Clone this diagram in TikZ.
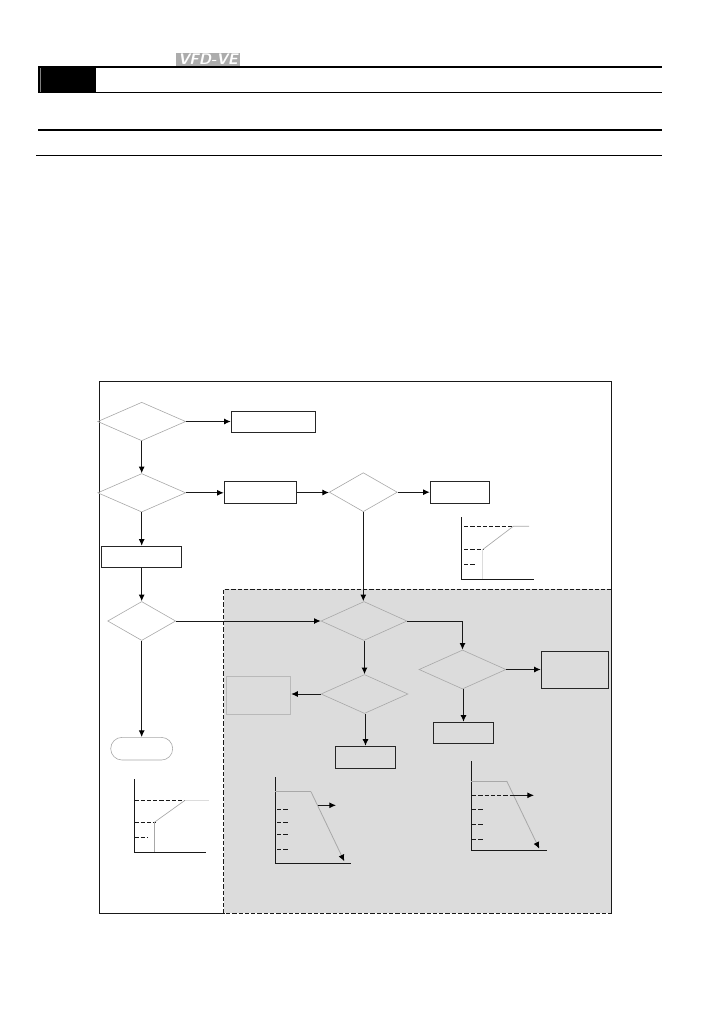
\documentclass[tikz,border=0pt]{standalone}
\usepackage{xcolor}
\usetikzlibrary{arrows.meta,shapes.geometric,shapes.misc}
\definecolor{zonegray}{HTML}{DCDCDC}
\definecolor{edgegray}{HTML}{A8A8A8}
\tikzset{
  decide/.style 2 args={diamond,draw=edgegray,line width=0.45pt,inner sep=0pt,minimum width=#1*0.75pt,minimum height=#2*0.75pt},
  proc/.style 2 args={rectangle,draw=black!85,line width=0.75pt,inner sep=0pt,minimum width=#1*0.75pt,minimum height=#2*0.75pt},
  tip/.style={-{Latex[black,length=5pt,width=4.5pt]}},
  flow/.style={tip,black!90,line width=0.75pt},
  axis/.style={black!90,line width=0.75pt},
  level/.style={black!90,dashed,dash pattern=on 3.2pt off 1.5pt,line width=0.6pt},
  curve/.style={edgegray,line width=0.75pt}
}
\begin{document}
\begin{tikzpicture}[x=0.75pt,y=-0.75pt]
\useasboundingbox (0,0) rectangle (726,1032);
\fill[black] (38,67) rectangle (96,92.5);
\draw[gray,line width=0.5pt] (40.5,68) -- (40.5,92);
\draw[black,line width=1.3pt] (38,67) -- (662,67);
\draw[black,line width=0.75pt] (96,92.5) -- (662,92.5);
\draw[black,line width=1.3pt] (38,129.7) -- (662,129.7);
\draw[black,line width=0.75pt] (36,155.3) -- (662,155.3);
\node[fill=gray!65,text=white,inner sep=0pt,minimum width=48pt,minimum height=10pt,font=\fontsize{11.5}{11.5}\sffamily\bfseries\itshape] (logo) at (208,59.4) {VFD-VE};
\fill[zonegray] (223.7,589.3) rectangle (611.7,913.3);
\draw[level,line width=0.75pt] (611.7,589.3) -- (223.7,589.3) -- (223.7,913.3) -- (611.7,913.3);
\draw[axis] (223.7,913.3) -- (99.3,913.3) -- (99.3,381) -- (611.7,381) -- (611.7,913.3);
\node[decide={88}{38.5}] (d1) at (141.7,421.5) {};
\node[decide={88}{38.5}] (d2) at (141.7,492.8) {};
\node[decide={68}{39}] (d3) at (363.3,492.2) {};
\node[decide={68}{39}] (d4) at (141.7,621) {};
\node[decide={86}{39}] (d5) at (364,621) {};
\node[decide={87}{39}] (d6) at (364.5,694) {};
\node[decide={87}{39}] (d7) at (462.5,669.5) {};
\node[proc={84.5}{21}] (b1) at (273.5,421.5) {};
\node[proc={72.5}{22}] (b2) at (260.5,492.5) {};
\node[proc={79.5}{21}] (b3) at (141.7,556.8) {};
\node[proc={59.5}{22}] (b4) at (460,492.3) {};
\node[proc={67.5}{37.5}] (b5) at (575,669.8) {};
\node[proc={60.5}{21.5}] (b6) at (463.5,733) {};
\node[proc={60.5}{22.5}] (b7) at (365.5,757.5) {};
\node[proc={64}{37.5},draw=edgegray!80] (b8) at (258.7,695.3) {};
\node[rounded rectangle,draw=edgegray,line width=0.45pt,inner sep=0pt,minimum width=46.5pt,minimum height=17pt] (end) at (141.7,748.7) {};
\draw[flow] (d1.east) -- (b1.west);
\draw[flow] (d1.south) -- (d2.north);
\draw[flow] (d2.east) -- (d2.east -| b2.west);
\draw[flow] (b2.east) -- (b2.east -| d3.west);
\draw[flow] (d3.east) -- (d3.east -| b4.west);
\draw[flow] (d2.south) -- (b3.north);
\draw[flow] (b3.south) -- (d4.north);
\draw[flow] (d4.east) -- (d5.west);
\draw[flow] (d3.south) -- (d3.south |- d5.north);
\draw[flow] (d4.south) -- (end.north);
\draw[flow] (d6.north |- d5.south) -- (d6.north);
\draw[flow] (d5.east) -| (d7.north);
\draw[flow] (d7.east) -- (d7.east -| b5.west);
\draw[flow] (b6.north |- d7.south) -- (b6.north);
\draw[flow] (d6.west) -- (d6.west -| b8.east);
\draw[flow] (b7.north |- d6.south) -- (b7.north);
\draw[axis] (461.7,517.3) -- (461.7,579.3) -- (533.7,579.3);
\draw[level] (464,526.3) -- (513.3,526.3);
\draw[level] (464,549.3) -- (483.3,549.3);
\draw[level] (464,564.7) -- (475,564.7);
\draw[zonegray,line width=0.75pt] (482.3,549.3) -- (482.3,579);
\draw[curve,line width=0.5pt] (483,549.3) -- (513.3,526.3) -- (529,526.3);
\draw[axis] (134.3,779) -- (134.3,852.3) -- (205.7,852.3);
\draw[level] (134.3,800.3) -- (185,800.3);
\draw[level] (134.3,822.3) -- (155.7,822.3);
\draw[level] (134.3,837.3) -- (147.3,837.3);
\draw[curve] (154.3,822.3) -- (154.3,852);
\draw[curve,line width=0.5pt] (154.3,822.3) -- (185,800.3);
\draw[zonegray,line width=0.9pt] (185,800.3) -- (209,800.3);
\draw[axis] (275.3,777) -- (275.3,863.3) -- (350.7,863.3);
\draw[curve] (275.3,791.7) -- (311,791.7);
\draw[curve,tip,line width=0.6pt] (311,791.7) -- (344.3,861.3);
\draw[flow] (317.7,805.3) -- (336,805.3);
\foreach \ylev in {809.3,822.3,834.3,849.3} \draw[level] (277,\ylev) -- (288.3,\ylev);
\draw[axis] (471.3,761) -- (471.3,850.3) -- (546.7,850.3);
\draw[curve] (471.3,781) -- (506.7,781);
\draw[curve,tip,line width=0.6pt] (506.7,781) -- (539.3,848.7);
\draw[level] (472,795.3) -- (513,795.3);
\draw[flow] (513,795.3) -- (534,795.3);
\foreach \ylev in {809.3,824.3,839.3} \draw[level] (472,\ylev) -- (484,\ylev);
\end{tikzpicture}
\end{document}
